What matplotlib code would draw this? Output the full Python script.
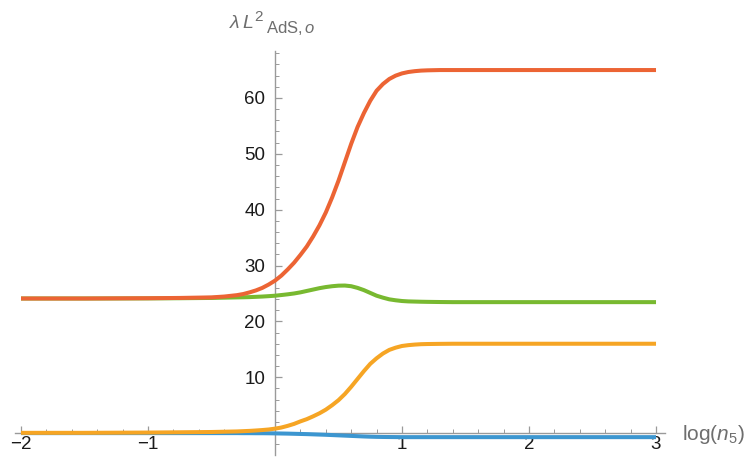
import numpy as np
import matplotlib
matplotlib.use("Agg")
import matplotlib.pyplot as plt
from matplotlib.ticker import MultipleLocator, FixedLocator

plt.rcParams['font.family'] = ['Liberation Sans', 'DejaVu Sans']
plt.rcParams['mathtext.fontset'] = 'custom'
plt.rcParams['mathtext.rm'] = 'Liberation Sans'
plt.rcParams['mathtext.it'] = 'Liberation Sans:italic'
plt.rcParams['mathtext.sf'] = 'Liberation Sans'

# ---- data ----
x_vals = [-2, -1.5, -1, -0.75, -0.5, -0.4, -0.3, -0.25, -0.2, -0.15, -0.1, -0.05,
          0, 0.05, 0.1, 0.15, 0.2, 0.25, 0.3, 0.35, 0.4, 0.45, 0.5, 0.55, 0.6, 0.65,
          0.7, 0.75, 0.8, 0.85, 0.9, 0.95, 1.0, 1.05, 1.1, 1.15, 1.2,
          1.3, 1.4, 1.7, 2, 2.5, 3]

blue = [0, 0, 0, 0, 0, 0, 0, -0.01, -0.01, -0.02, -0.02, -0.03,
        -0.05, -0.07, -0.09, -0.12, -0.15, -0.18, -0.22, -0.26, -0.3, -0.35, -0.4, -0.45, -0.5, -0.55,
        -0.6, -0.64, -0.67, -0.69, -0.7, -0.71, -0.72, -0.72, -0.72, -0.72, -0.72,
        -0.72, -0.72, -0.72, -0.72, -0.72, -0.72]

orange = [0.05, 0.05, 0.1, 0.15, 0.2, 0.25, 0.3, 0.35, 0.4, 0.47, 0.55, 0.65,
          0.8, 1.0, 1.3, 1.65, 2.1, 2.5, 3.0, 3.55, 4.2, 5.0, 5.9, 7.0, 8.3, 9.7,
          11.1, 12.4, 13.4, 14.25, 14.9, 15.3, 15.6, 15.75, 15.85, 15.92, 15.95,
          15.98, 16.0, 16.0, 16.0, 16.0, 16.0]

green = [24.1, 24.1, 24.12, 24.15, 24.2, 24.25, 24.3, 24.32, 24.35, 24.4, 24.45, 24.52,
         24.6, 24.72, 24.85, 25.0, 25.2, 25.45, 25.7, 25.95, 26.15, 26.3, 26.4, 26.42, 26.3, 26.0,
         25.6, 25.1, 24.6, 24.25, 23.95, 23.78, 23.65, 23.58, 23.55, 23.52, 23.5,
         23.47, 23.45, 23.45, 23.45, 23.45, 23.45]

red = [24.1, 24.1, 24.15, 24.2, 24.3, 24.45, 24.7, 24.9, 25.2, 25.55, 26.0, 26.6,
       27.3, 28.2, 29.3, 30.5, 31.9, 33.4, 35.2, 37.2, 39.5, 42.2, 45.2, 48.5, 51.8, 54.8,
       57.3, 59.5, 61.3, 62.5, 63.4, 64.0, 64.4, 64.65, 64.8, 64.9, 64.95,
       65.0, 65.0, 65.0, 65.0, 65.0, 65.0]

x_major = [-2, -1, 1, 2, 3]
x_tick_labels = ["\u22122", "\u22121", "1", "2", "3"]
y_major = [10, 20, 30, 40, 50, 60]

series = [(blue, "#3C96D0"), (orange, "#F6A524"), (green, "#78B930"), (red, "#EC6434")]

# ---- figure ----
W, H = 749, 459
fig = plt.figure(figsize=(W / 100, H / 100), dpi=100)
left_px, right_px = 14.65, 664.9
top_px, bot_px = 50.5, 454.9
ax = fig.add_axes([left_px / W, 1 - bot_px / H, (right_px - left_px) / W, (bot_px - top_px) / H])
ax.set_xlim(-2.05, 3.07)
ax.set_ylim(-3.9, 68.5)

for vals, col in series:
    ax.plot(x_vals, vals, color=col, lw=2.9, solid_capstyle='butt', solid_joinstyle='round',
            clip_on=False, zorder=3)

axis_col = "#9a9a9a"
for s in ['top', 'right']:
    ax.spines[s].set_visible(False)
ax.spines['left'].set_position(('data', 0))
ax.spines['bottom'].set_position(('data', 0))
for s in ['left', 'bottom']:
    ax.spines[s].set_color(axis_col)
    ax.spines[s].set_linewidth(1.0)
    ax.spines[s].set_zorder(2)

ax.xaxis.set_major_locator(FixedLocator(x_major))
ax.xaxis.set_minor_locator(MultipleLocator(0.2))
ax.yaxis.set_major_locator(FixedLocator(y_major))
ax.yaxis.set_minor_locator(MultipleLocator(2))
ax.set_xticklabels(x_tick_labels)
ax.set_yticklabels([str(v) for v in y_major])

ax.tick_params(axis='both', which='major', direction='in', length=5, width=0.9,
               color=axis_col, labelsize=13.5, labelcolor='#1a1a1a')
ax.tick_params(axis='both', which='minor', direction='in', length=3, width=0.7, color=axis_col)
ax.tick_params(axis='x', which='major', pad=2)
ax.tick_params(axis='y', which='major', pad=7)
ax.patch.set_alpha(0)

lab_col = '#6e6e6e'
# y-axis label: lambda L^2 _{AdS,o}
fig.text(229 / W, 1 - 28 / H, r'$\lambda\,L$', color=lab_col, fontsize=14,
         ha='left', va='baseline')
fig.text(254 / W, 1 - 21 / H, '2', color=lab_col, fontsize=11, ha='left', va='baseline')
fig.text(266 / W, 1 - 33 / H, r'$\mathrm{AdS},o$', color=lab_col, fontsize=12,
         ha='left', va='baseline')
# x-axis label
fig.text(682 / W, 1 - 440 / H, r'$\mathrm{log}(n_5)$', color=lab_col,
         fontsize=15, ha='left', va='baseline')

fig.savefig("out.png", dpi=100)
